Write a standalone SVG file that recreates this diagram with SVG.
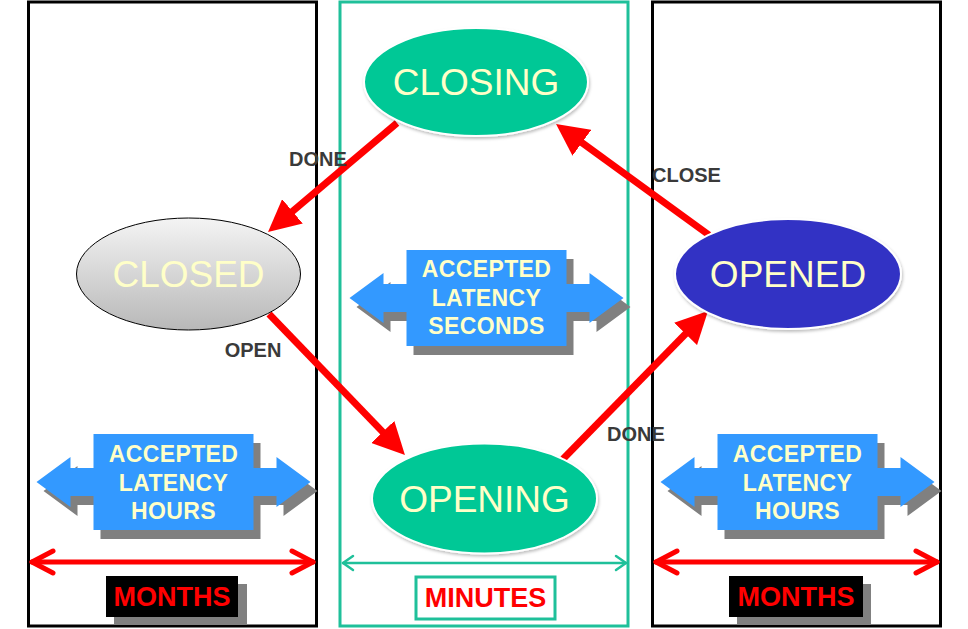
<svg xmlns="http://www.w3.org/2000/svg" xmlns:xlink="http://www.w3.org/1999/xlink" width="968" height="629" viewBox="0 0 968 629">
<style>
.panel{fill:none;stroke:#000;stroke-width:3}
.mid{fill:none;stroke:#1FC09A;stroke-width:3}
.state{font-family:"Liberation Sans",Arial,sans-serif;font-size:37px;fill:#FFFFC8;text-anchor:middle}
.lat{font-family:"Liberation Sans",Arial,sans-serif;font-size:23px;font-weight:bold;fill:#FFFFC8;text-anchor:middle;letter-spacing:0.4px}
.lbl{font-family:"Liberation Sans",Arial,sans-serif;font-size:20px;font-weight:bold;fill:#3A3A3A}
.unit{font-family:"Liberation Sans",Arial,sans-serif;font-size:27px;font-weight:bold;fill:#FF0000;text-anchor:middle}
.tr{stroke:#FF0000;stroke-width:7;fill:none}
.dbl{stroke:#FF0000;stroke-width:5;fill:none;stroke-linecap:round;stroke-linejoin:round}
.dblt{stroke:#1FC09A;stroke-width:2.5;fill:none;stroke-linecap:round;stroke-linejoin:round}
.blue{fill:#3399FF}
.shadow{fill:#808080}
</style>
<defs>
<linearGradient id="gray" x1="0" y1="0" x2="0" y2="1">
<stop offset="0" stop-color="#F4F4F4"/>
<stop offset="1" stop-color="#B8B8B8"/>
</linearGradient>
<filter id="ds" x="-10%" y="-10%" width="125%" height="130%">
<feDropShadow dx="1" dy="2" stdDeviation="1.5" flood-color="#000" flood-opacity="0.25"/>
</filter>
<marker id="head" markerUnits="userSpaceOnUse" viewBox="0 0 32 32" markerWidth="32" markerHeight="32" refX="12" refY="16" orient="auto">
<path d="M0,0 L32,16 L0,32 z" fill="#FF0000"/>
</marker>
<polygon id="blk" points="-137,0 -103,-25 -103,-14 -80,-14 -80,-48 80,-48 80,-14 103,-14 103,-25 137,0 103,25 103,14 80,14 80,48 -80,48 -80,14 -103,14 -103,25"/>
</defs>

<g id="panel-left"><rect class="panel" x="28.5" y="2" width="288" height="624"/></g>
<g id="panel-middle"><rect class="mid" x="340" y="2" width="288" height="624"/></g>
<g id="panel-right"><rect class="panel" x="652.5" y="2" width="288" height="624"/></g>

<g id="connectors">
<line class="tr" x1="397" y1="123" x2="283.3" y2="219.1" marker-end="url(#head)"/>
<line class="tr" x1="269" y1="314" x2="391.1" y2="440.6" marker-end="url(#head)"/>
<line class="tr" x1="563" y1="459" x2="694" y2="325.3" marker-end="url(#head)"/>
<line class="tr" x1="709" y1="235" x2="572.2" y2="135.7" marker-end="url(#head)"/>
<text class="lbl" x="318" y="166" text-anchor="middle">DONE</text>
<text class="lbl" x="253" y="357" text-anchor="middle">OPEN</text>
<text class="lbl" x="636" y="441" text-anchor="middle">DONE</text>
<text class="lbl" x="652" y="182">CLOSE</text>
</g>

<g id="closing">
<ellipse cx="476" cy="82" rx="112" ry="54" fill="#00C896" stroke="#FFFFFF" stroke-width="2" filter="url(#ds)"/>
<text class="state" x="476" y="95">CLOSING</text>
</g>
<g id="closed">
<ellipse cx="188.5" cy="274" rx="112" ry="56" fill="url(#gray)" stroke="#000" stroke-width="1"/>
<text class="state" x="188.5" y="287">CLOSED</text>
</g>
<g id="opened">
<ellipse cx="788" cy="274" rx="113" ry="55" fill="#3333C4" stroke="#FFFFFF" stroke-width="2" filter="url(#ds)"/>
<text class="state" x="788" y="287">OPENED</text>
</g>
<g id="opening">
<ellipse cx="484.5" cy="498.5" rx="112.5" ry="55" fill="#00C896" stroke="#FFFFFF" stroke-width="2" filter="url(#ds)"/>
<text class="state" x="484.5" y="512">OPENING</text>
</g>

<g id="latency-seconds">
<use href="#blk" class="shadow" transform="translate(493.5,307)"/>
<use href="#blk" class="blue" transform="translate(486.5,298)"/>
<text class="lat" x="486.5" y="277">ACCEPTED</text>
<text class="lat" x="486.5" y="305.5">LATENCY</text>
<text class="lat" x="486.5" y="334">SECONDS</text>
</g>
<g id="latency-hours-left">
<use href="#blk" class="shadow" transform="translate(180.5,491)"/>
<use href="#blk" class="blue" transform="translate(173.5,482)"/>
<text class="lat" x="173.5" y="462">ACCEPTED</text>
<text class="lat" x="173.5" y="491">LATENCY</text>
<text class="lat" x="173.5" y="519">HOURS</text>
</g>
<g id="latency-hours-right">
<use href="#blk" class="shadow" transform="translate(804.5,491)"/>
<use href="#blk" class="blue" transform="translate(797.5,482)"/>
<text class="lat" x="797.5" y="462">ACCEPTED</text>
<text class="lat" x="797.5" y="491">LATENCY</text>
<text class="lat" x="797.5" y="519">HOURS</text>
</g>

<g id="span-left">
<line class="dbl" x1="32" y1="562" x2="313" y2="562"/>
<polyline class="dbl" points="53,551 32,562 53,573"/>
<polyline class="dbl" points="292,551 313,562 292,573"/>
</g>
<g id="span-middle">
<line class="dblt" x1="343" y1="563" x2="626" y2="563"/>
<polyline class="dblt" points="353,556 343,563 353,570"/>
<polyline class="dblt" points="616,556 626,563 616,570"/>
</g>
<g id="span-right">
<line class="dbl" x1="656" y1="562" x2="937" y2="562"/>
<polyline class="dbl" points="677,551 656,562 677,573"/>
<polyline class="dbl" points="916,551 937,562 916,573"/>
</g>

<g id="months-left">
<rect x="114" y="584" width="133" height="41" fill="#808080"/>
<rect x="106" y="576" width="132" height="41" fill="#000"/>
<text class="unit" x="172" y="606">MONTHS</text>
</g>
<g id="minutes">
<rect x="416" y="577" width="139" height="42" fill="#FFFFFF" stroke="#1FC09A" stroke-width="3"/>
<text class="unit" x="485.5" y="607" font-size="26">MINUTES</text>
</g>
<g id="months-right">
<rect x="737" y="584" width="134" height="41" fill="#808080"/>
<rect x="729" y="576" width="134" height="41" fill="#000"/>
<text class="unit" x="796" y="606">MONTHS</text>
</g>
</svg>
